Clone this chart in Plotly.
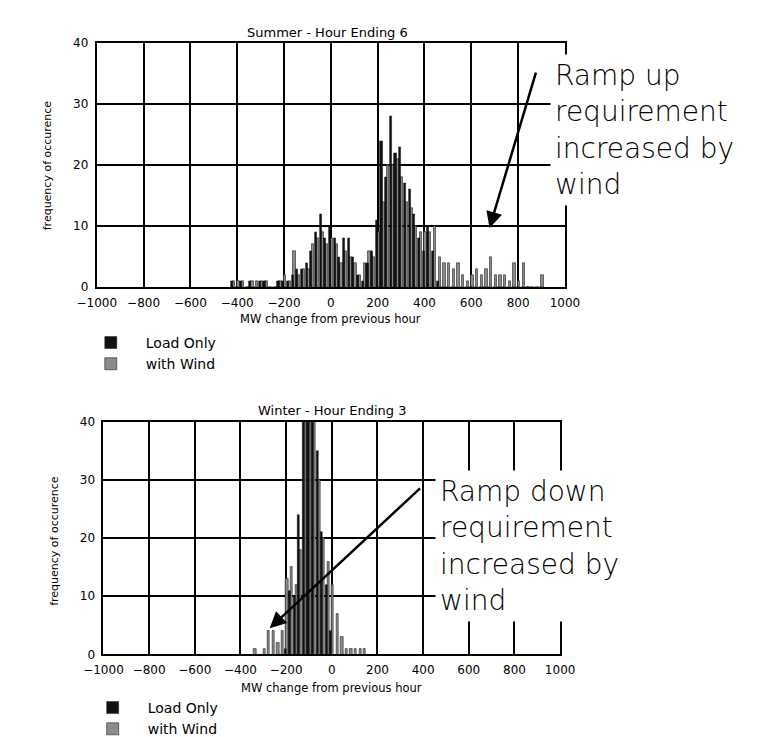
import plotly.graph_objects as go

# ---------------- data ----------------
# Summer - Hour Ending 6 : 20 MW bins (bin centres)
summer_mw = [-420, -400, -380, -360, -340, -320, -300, -280, -260, -240, -220, -200,
             -180, -160, -140, -120, -100, -80, -60, -40, -20, 0, 20, 40, 60, 80, 100,
             120, 140, 160, 180, 200, 220, 240, 260, 280, 300, 320, 340, 360, 380, 400,
             420, 440, 460, 480, 500, 520, 540, 560, 580, 600, 620, 640, 660, 680, 700,
             720, 740, 760, 780, 800, 820, 840, 860, 880, 900]
summer_load = [1, 0, 1, 0, 1, 0, 1, 1, 0, 0, 1, 1,
               1, 2, 3, 3, 4, 6, 9, 12, 8, 10, 8, 5, 8, 8, 5,
               2, 1, 4, 6, 11, 24, 18, 28, 22, 23, 17, 16, 12, 8, 6,
               10, 6, 1, 0, 0, 0, 0, 0, 0, 0, 0, 0, 0, 0, 0,
               0, 0, 0, 0, 0, 0, 0, 0, 0, 0]
summer_wind = [1, 1, 1, 0, 1, 1, 1, 1, 0, 0, 1, 2,
               1, 6, 2, 3, 3, 7, 8, 9, 7, 8, 7, 4, 6, 5, 4,
               2, 4, 6, 5, 9, 14, 20, 20, 21, 18, 14, 13, 10, 9, 9,
               9, 10, 5, 4, 4, 3, 4, 2, 1, 2, 3, 2, 3, 5, 2,
               2, 2, 1, 4, 1, 4, 0, 0, 0, 2]

# Winter - Hour Ending 3 : 20 MW bins (bin centres)
winter_mw = [-340, -320, -300, -280, -260, -240, -220, -200, -180, -160, -140, -120,
             -100, -80, -60, -40, -20, 0, 20, 40, 60, 80, 100, 120, 140]
winter_load = [0, 0, 0, 0, 0, 0, 0, 1, 11, 10, 24, 48,
               46, 44, 35, 21, 12, 4, 0, 0, 0, 0, 0, 0, 0]
winter_wind = [1, 0, 1, 4, 4, 2, 4, 13, 15, 12, 18, 44,
               42, 40, 30, 20, 16, 12, 7, 3, 1, 1, 1, 1, 1]

x_ticks = [-1000, -800, -600, -400, -200, 0, 200, 400, 600, 800, 1000]
y_ticks = [0, 10, 20, 30, 40]

W, H = 784, 737
def px(v):
    return v / W
def py(v):
    return 1 - v / H

FONT = "DejaVu Sans"
LOAD_COLOR = "#111111"
WIND_COLOR = "#8c8c8c"

fig = go.Figure()

# summer traces
fig.add_trace(go.Bar(x=summer_mw, y=summer_wind, name="with Wind", xaxis="x", yaxis="y",
                     marker=dict(color=WIND_COLOR, line=dict(color="#222", width=0.6)),
                     width=10, offset=-1, legend="legend", legendrank=2))
fig.add_trace(go.Bar(x=summer_mw, y=summer_load, name="Load Only", xaxis="x", yaxis="y",
                     marker=dict(color=LOAD_COLOR, line=dict(color="#000", width=0.4)),
                     width=9, offset=-9, legend="legend", legendrank=1))
# winter traces
fig.add_trace(go.Bar(x=winter_mw, y=winter_wind, name="with Wind", xaxis="x2", yaxis="y2",
                     marker=dict(color=WIND_COLOR, line=dict(color="#222", width=0.6)),
                     width=10, offset=-1, legend="legend2", legendrank=2))
fig.add_trace(go.Bar(x=winter_mw, y=winter_load, name="Load Only", xaxis="x2", yaxis="y2",
                     marker=dict(color=LOAD_COLOR, line=dict(color="#000", width=0.4)),
                     width=9, offset=-9, legend="legend2", legendrank=1))

axis_common = dict(showgrid=True, gridcolor="black", gridwidth=1.5, zeroline=False,
                   showline=True, linecolor="black", linewidth=2, mirror=True,
                   ticks="", tickfont=dict(family=FONT, size=12, color="black"))

fig.update_layout(
    width=W, height=H, autosize=False,
    margin=dict(l=0, r=0, t=0, b=0),
    paper_bgcolor="white", plot_bgcolor="white",
    barmode="overlay", bargap=0,
    xaxis=dict(domain=[px(72), px(562)], range=[-1000, 1000], tickvals=x_ticks,
               anchor="y", ticklabelstandoff=3, **axis_common),
    yaxis=dict(domain=[py(281), py(29)], range=[0, 40], tickvals=y_ticks,
               anchor="x", ticklabelstandoff=4, **axis_common),
    xaxis2=dict(domain=[px(79), px(557)], range=[-1000, 1000], tickvals=x_ticks,
                anchor="y2", ticklabelstandoff=3, **axis_common),
    yaxis2=dict(domain=[py(660), py(420)], range=[0, 40], tickvals=y_ticks,
                anchor="x2", ticklabelstandoff=4, **axis_common),
    legend=dict(x=px(50), y=py(322), xanchor="left", yanchor="top",
                font=dict(family=FONT, size=14, color="black"), itemwidth=60,
                bgcolor="rgba(0,0,0,0)", tracegroupgap=0),
    legend2=dict(x=px(52), y=py(699), xanchor="left", yanchor="top",
                 font=dict(family=FONT, size=14, color="black"), itemwidth=60,
                 bgcolor="rgba(0,0,0,0)", tracegroupgap=0),
)

def label(text, x, y, size, angle=0):
    return dict(text=text, x=px(x), y=py(y), xref="paper", yref="paper",
                xanchor="center", yanchor="middle", showarrow=False, textangle=angle,
                font=dict(family=FONT, size=size, color="black"))

ann = []
# titles
ann.append(label("Summer - Hour Ending 6", 314, 18, 13))
ann.append(label("Winter - Hour Ending 3", 318, 408, 13))
# x titles
ann.append(label("MW change from previous hour", 317, 314, 11.5))
ann.append(label("MW change from previous hour", 318, 695, 11.5))
# y titles
ann.append(label("frequency of occurence", 20, 155, 11, -90))
ann.append(label("frequency of occurence", 27, 543, 11, -90))
# arrows
ann.append(dict(x=678, y=9.7, ax=878, ay=35.4, xref="x", yref="y", axref="x", ayref="y",
                text="", showarrow=True, arrowhead=2, arrowsize=1.3, arrowwidth=2.5,
                arrowcolor="black"))
ann.append(dict(x=-272, y=4.5, ax=393, ay=28.8, xref="x2", yref="y2", axref="x2", ayref="y2",
                text="", showarrow=True, arrowhead=2, arrowsize=1.3, arrowwidth=2.5,
                arrowcolor="black"))
# callout texts
ann.append(dict(text="Ramp up<br>requirement<br>increased by<br>wind", x=px(546), y=py(119),
                xref="paper", yref="paper", xanchor="left", yanchor="middle", align="left",
                showarrow=False, bgcolor="white", borderpad=4,
                font=dict(family=FONT, size=28, color="black", weight=300)))
ann.append(dict(text="Ramp down<br>requirement<br>increased by<br>wind", x=px(426), y=py(548),
                xref="paper", yref="paper", xanchor="left", yanchor="middle", align="left",
                showarrow=False, bgcolor="white", borderpad=4,
                font=dict(family=FONT, size=28, color="black", weight=300)))
fig.update_layout(annotations=ann)

fig.write_html("out.html")
